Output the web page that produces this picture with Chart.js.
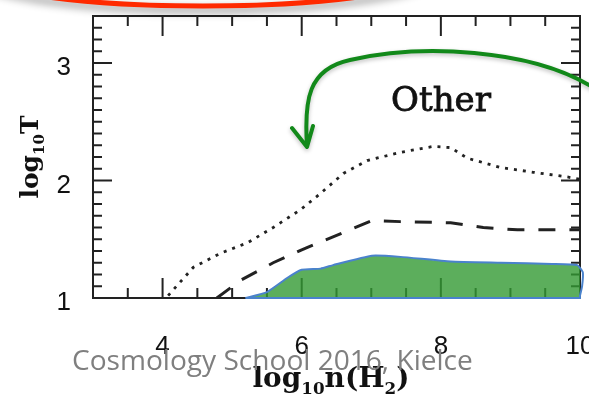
<!DOCTYPE html>
<html>
<head>
<meta charset="utf-8">
<script src="https://cdn.jsdelivr.net/npm/chart.js@4.4.0/dist/chart.umd.min.js"></script>
<style>
  html, body { margin: 0; padding: 0; background: #fff; }
  canvas { display: block; }
</style>
</head>
<body>
<canvas id="tempChart" width="589" height="398"></canvas>
<script>
// tick labels
const xTicks = [4, 6, 8, 10];
const yTicks = [1, 2, 3];

// dotted curve (upper)
const dottedX = [4.08, 4.44, 4.83, 5.22, 5.59, 5.98, 6.27, 6.6, 6.94, 7.42, 7.89, 8.14, 8.38, 8.86, 9.33, 9.82, 10.0];
const dottedY = [1.02, 1.26, 1.38, 1.47, 1.6, 1.75, 1.89, 2.06, 2.17, 2.24, 2.29, 2.28, 2.19, 2.11, 2.07, 2.03, 2.01];

// dashed curve (middle)
const dashedX = [4.78, 5.12, 5.59, 6.0, 6.45, 7.01, 7.42, 8.14, 8.61, 9.1, 9.82, 10.0];
const dashedY = [1.0, 1.15, 1.3, 1.41, 1.52, 1.66, 1.65, 1.64, 1.6, 1.58, 1.58, 1.58];

// shaded region outline
const greenX = [5.19, 5.5, 5.79, 6.0, 6.27, 6.45, 7.01, 7.42, 8.14, 8.86, 9.6, 9.96, 10.04, 10.03, 10.0, 10.0, 5.19];
const greenY = [1.0, 1.05, 1.17, 1.24, 1.25, 1.28, 1.36, 1.35, 1.31, 1.30, 1.29, 1.28, 1.22, 1.1, 1.02, 1.0, 1.0];

const toPts = (xs, ys) => xs.map((x, i) => ({ x: x, y: ys[i] }));

const axisFont = { family: 'Liberation Sans', size: 26 };

const framePlugin = {
  id: 'frame',
  beforeDatasetsDraw(chart) {
    const { ctx, chartArea: a, scales: { x, y } } = chart;
    ctx.save();
    ctx.strokeStyle = '#222';
    ctx.lineWidth = 2;
    ctx.strokeRect(a.left, a.top, a.right - a.left, a.bottom - a.top);
    ctx.beginPath();
    for (let v = 3.5; v < 10; v += 0.5) {
      const px = x.getPixelForValue(v);
      const len = xTicks.includes(v) ? 20 : 10;
      ctx.moveTo(px, a.bottom); ctx.lineTo(px, a.bottom - len);
      ctx.moveTo(px, a.top); ctx.lineTo(px, a.top + len);
    }
    for (let k = 11; k < 34; k++) {
      const v = k / 10;
      const py = y.getPixelForValue(v);
      const len = yTicks.includes(v) ? 19 : 9;
      ctx.moveTo(a.left, py); ctx.lineTo(a.left + len, py);
      ctx.moveTo(a.right, py); ctx.lineTo(a.right - len, py);
    }
    ctx.stroke();
    ctx.restore();
  }
};

function drawParts(ctx, parts, cx, baseline, targetW) {
  let w = 0;
  parts.forEach(p => { ctx.font = p.font(1); w += ctx.measureText(p.t).width; });
  const k = targetW / w;
  let x = cx - targetW / 2;
  parts.forEach(p => {
    ctx.font = p.font(k);
    ctx.fillText(p.t, x, baseline + p.dy * k);
    x += ctx.measureText(p.t).width;
  });
}

const notesPlugin = {
  id: 'notes',
  afterDraw(chart) {
    const ctx = chart.ctx;
    ctx.save();
    ctx.textAlign = 'left';
    ctx.textBaseline = 'alphabetic';
    ctx.fillStyle = '#111';

    const big = k => 'bold ' + (25 * k) + 'px "DejaVu Serif"';
    const sub = k => 'bold ' + (15 * k) + 'px "DejaVu Serif"';

    // x title
    drawParts(ctx, [
      { t: 'log', font: big, dy: 0 },
      { t: '10', font: sub, dy: 6 },
      { t: 'n(H', font: big, dy: 0 },
      { t: '2', font: sub, dy: 6 },
      { t: ')', font: big, dy: 0 }
    ], 331, 387, 157);

    // y title
    ctx.save();
    ctx.translate(38, 157);
    ctx.rotate(-Math.PI / 2);
    drawParts(ctx, [
      { t: 'log', font: big, dy: 0 },
      { t: '10', font: sub, dy: 6 },
      { t: 'T', font: big, dy: 0 }
    ], 0, 0, 83);
    ctx.restore();

    // label inside plot
    ctx.font = '34px "DejaVu Serif"';
    ctx.textAlign = 'center';
    ctx.lineWidth = 0.8;
    ctx.strokeStyle = '#111';
    ctx.fillText('Other', 441, 111);
    ctx.strokeText('Other', 441, 111);

    // footer
    ctx.textAlign = 'left';
    ctx.font = '100px "Open Sans"';
    const fw = ctx.measureText('Cosmology School 2016, Kielce').width;
    ctx.font = (100 * 401 / fw) + 'px "Open Sans"';
    ctx.fillStyle = '#7f7f7f';
    ctx.fillText('Cosmology School 2016, Kielce', 72, 370);

    // red highlight arc at the top
    ctx.shadowColor = 'rgba(0,0,0,0.45)';
    ctx.shadowBlur = 8;
    ctx.shadowOffsetY = 4;
    ctx.strokeStyle = '#ff2a00';
    ctx.lineWidth = 5;
    ctx.beginPath();
    ctx.ellipse(203, -30, 235, 36, 0, 0, Math.PI * 2);
    ctx.stroke();

    // green arrow
    ctx.shadowColor = 'rgba(0,0,0,0.25)';
    ctx.shadowBlur = 4;
    ctx.shadowOffsetY = 2;
    ctx.strokeStyle = '#12891a';
    ctx.lineWidth = 4;
    ctx.lineCap = 'round';
    ctx.lineJoin = 'round';
    ctx.beginPath();
    ctx.moveTo(594, 88);
    ctx.bezierCurveTo(530, 48, 420, 44, 350, 60);
    ctx.bezierCurveTo(308, 69, 304, 100, 307, 146);
    ctx.moveTo(292, 128);
    ctx.lineTo(307, 147);
    ctx.lineTo(313, 126);
    ctx.stroke();
    ctx.restore();
  }
};

new Chart(document.getElementById('tempChart').getContext('2d'), {
  type: 'line',
  data: {
    datasets: [
      {
        data: toPts(greenX, greenY),
        borderColor: '#4a82cc',
        borderWidth: 2,
        backgroundColor: 'rgba(51,154,51,0.8)',
        fill: 'shape',
        pointRadius: 0,
        tension: 0.15,
        clip: false,
        order: 3
      },
      {
        data: toPts(dashedX, dashedY),
        borderColor: '#222',
        borderWidth: 3,
        borderDash: [17, 14],
        fill: false,
        pointRadius: 0,
        order: 2
      },
      {
        data: toPts(dottedX, dottedY),
        borderColor: '#222',
        borderWidth: 2.8,
        borderDash: [3, 6],
        fill: false,
        pointRadius: 0,
        order: 1
      }
    ]
  },
  options: {
    responsive: false,
    animation: false,
    events: [],
    layout: { padding: { top: 16, right: 9, left: 0, bottom: 0 } },
    plugins: { legend: { display: false }, tooltip: { enabled: false } },
    scales: {
      x: {
        type: 'linear',
        min: 3,
        max: 10,
        grid: { display: false },
        border: { display: false },
        ticks: { font: axisFont, color: '#111', padding: 25, maxRotation: 0, autoSkip: false },
        afterBuildTicks: s => { s.ticks = xTicks.map(v => ({ value: v })); },
        afterFit: s => { s.height = 100; s.paddingLeft = 0; s.paddingRight = 0; }
      },
      y: {
        type: 'linear',
        min: 1,
        max: 3.4,
        grid: { display: false },
        border: { display: false },
        ticks: { font: axisFont, color: '#111', padding: 14, labelOffset: 5 },
        afterBuildTicks: s => { s.ticks = yTicks.map(v => ({ value: v })); },
        afterFit: s => { s.width = 93; s.paddingTop = 0; s.paddingBottom = 0; }
      }
    }
  },
  plugins: [framePlugin, notesPlugin]
});
</script>
</body>
</html>
